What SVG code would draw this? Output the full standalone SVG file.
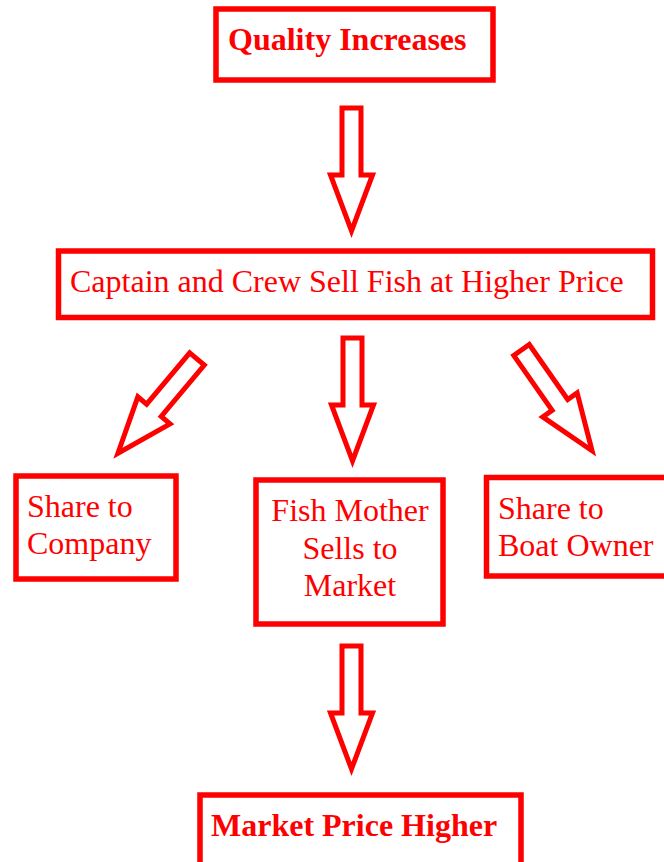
<svg xmlns="http://www.w3.org/2000/svg" xmlns:xlink="http://www.w3.org/1999/xlink" width="664" height="862" viewBox="0 0 664 862">
<style>
.box{fill:#fff;stroke:#ff0000;stroke-width:5.5}
.t{font-family:"Liberation Serif","Times New Roman",serif;font-size:32px;fill:#ff0000}
.b{font-weight:bold}
.arr{fill:#fff;stroke:#ff0000;stroke-width:5;stroke-linejoin:miter;stroke-miterlimit:6}
</style>
<defs>
<path id="arrow" class="arr" d="M -9.5 0 H 9.5 V 67 H 21 L 0 123 L -21 67 H -9.5 Z"/>
</defs>
<rect width="664" height="862" fill="#fff"/>
<g id="connectors">
<use xlink:href="#arrow" transform="translate(351.5,108)"/>
<use xlink:href="#arrow" transform="translate(197,359) rotate(40)"/>
<use xlink:href="#arrow" transform="translate(352.5,338)"/>
<use xlink:href="#arrow" transform="translate(521.5,350) rotate(-35)"/>
<use xlink:href="#arrow" transform="translate(351.5,646)"/>
</g>
<g id="quality">
<rect class="box" x="216" y="9" width="277" height="71"/>
<text class="t b" x="228" y="50">Quality Increases</text>
</g>
<g id="captain">
<rect class="box" x="58.5" y="251" width="594" height="66.5"/>
<text class="t" x="70" y="292">Captain and Crew Sell Fish at Higher Price</text>
</g>
<g id="company">
<rect class="box" x="16" y="476" width="160" height="103"/>
<text class="t" x="27" y="517">Share to</text>
<text class="t" x="27" y="554">Company</text>
</g>
<g id="fishmother">
<rect class="box" x="256" y="480" width="187" height="144"/>
<text class="t" x="350" y="521" text-anchor="middle">Fish Mother</text>
<text class="t" x="350" y="559" text-anchor="middle">Sells to</text>
<text class="t" x="350" y="596" text-anchor="middle">Market</text>
</g>
<g id="boatowner">
<rect class="box" x="486.5" y="477.5" width="200" height="98.5"/>
<text class="t" x="498" y="519">Share to</text>
<text class="t" x="498" y="556">Boat Owner</text>
</g>
<g id="marketprice">
<rect class="box" x="200" y="795" width="321" height="100"/>
<text class="t b" x="211" y="836">Market Price Higher</text>
</g>
</svg>
